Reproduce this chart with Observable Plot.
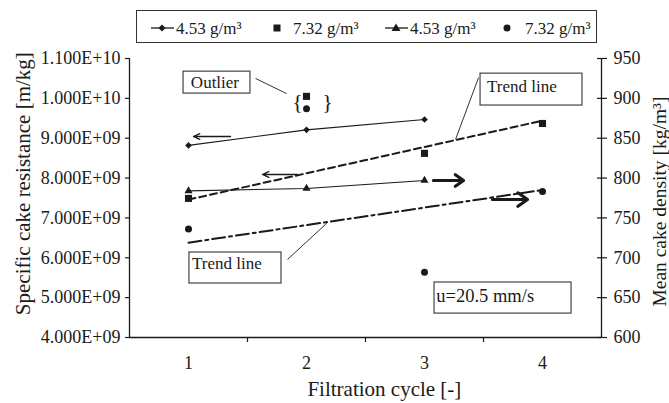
<!DOCTYPE html>
<html><head><meta charset="utf-8">
<script src="https://cdn.jsdelivr.net/npm/d3@7"></script>
<script src="https://cdn.jsdelivr.net/npm/@observablehq/plot@0.6"></script>
<style>
body{margin:0;background:#fff;font-family:"Liberation Serif","Times New Roman",serif;}
#wrap{position:relative;width:669px;height:403px;overflow:hidden;}
#legendBox{position:absolute;left:136px;top:10px;width:459px;height:31px;border:1.5px solid #333;background:#fff;}
#legendSvg{position:absolute;left:0;top:0;font-family:"Liberation Serif","Times New Roman",serif;}
#chart{position:absolute;left:0;top:0;}
</style></head><body>
<div id="wrap"><div id="chart"></div><div id="legendBox"></div><svg id="legendSvg" width="669" height="50"></svg></div>
<script>
// ---- data ----
const cycles = [1, 2, 3, 4];
const xTickLabels = ["1", "2", "3", "4"];
const resistance453 = [8.82e9, 9.21e9, 9.47e9];          // diamonds, cycles 1-3, left axis
const resistance732 = [7.49e9, 1.005e10, 8.62e9, 9.37e9]; // squares, cycles 1-4, left axis
const density453 = [784, 787, 797];                       // triangles, cycles 1-3, right axis
const density732 = [736, 887, 682, 783];                  // circles, cycles 1-4, right axis
const trendCycles = [1, 4];
const trendResistance = [7.46e9, 9.44e9];                 // dashed trend line
const trendDensity = [719, 785];                          // dash-dot trend line
const leftTicks = [4e9, 5e9, 6e9, 7e9, 8e9, 9e9, 1e10, 1.1e10];
const rightTicks = [600, 650, 700, 750, 800, 850, 900, 950];
const xBoundaryTicks = [1.5, 2.5, 3.5];
const seriesLabels = ["4.53 g/m³", "7.32 g/m³", "4.53 g/m³", "7.32 g/m³"];
const leftTitle = "Specific cake resistance [m/kg]";
const rightTitle = "Mean cake density [kg/m³]";
const xTitle = "Filtration cycle [-]";

// annotations (data coordinates: cycle, left-axis value)
const noteBoxes = [
  {label: "Outlier", x1: 0.958, x2: 1.525, y1: 10.12e9, y2: 10.67e9, tx: 1.02, ty: 10.40e9, size: 17},
  {label: "Trend line", x1: 3.475, x2: 4.339, y1: 9.82e9, y2: 10.62e9, tx: 3.53, ty: 10.30e9, size: 17},
  {label: "Trend line", x1: 1.008, x2: 1.788, y1: 5.355e9, y2: 6.133e9, tx: 1.03, ty: 5.86e9, size: 17},
  {label: "u=20.5 mm/s", x1: 3.085, x2: 4.246, y1: 4.60e9, y2: 5.38e9, tx: 3.10, ty: 5.03e9, size: 18.5}
];
const leaders = [
  {x1: 1.568, y1: 10.50e9, x2: 1.831, y2: 10.12e9},
  {x1: 3.458, y1: 10.52e9, x2: 3.263, y2: 8.97e9},
  {x1: 1.839, y1: 5.957e9, x2: 2.178, y2: 6.885e9}
];
const braces = [{t: "{", x: 1.924, y: 9.90e9}, {t: "}", x: 2.178, y: 9.90e9}];
const thinArrows = [
  {x1: 1.356, x2: 1.042, y: 9.043e9},
  {x1: 1.924, x2: 1.627, y: 8.089e9}
];
const thickArrows = [
  {x1: 3.076, x2: 3.331, y: 7.939e9},
  {x1: 3.576, x2: 3.873, y: 7.462e9}
];
// axis title anchors (data coordinates)
const titles = [
  {t: leftTitle, x: -0.40, y: 7.86e9, rotate: -90, size: 21},
  {t: rightTitle, x: 4.995, y: 7.41e9, rotate: -90, size: 19.5},
  {t: xTitle, x: 2.66, y: 2.70e9, rotate: 0, size: 21}
];

// right axis maps density onto left-axis units
const toLeft = d => 4e9 + (d - 600) * 2e7;
const fromLeft = v => 600 + (v - 4e9) / 2e7;
const sci = v => {
  const e = Math.floor(Math.log10(v) + 1e-9);
  return (v / Math.pow(10, e)).toFixed(3) + "E+" + String(e).padStart(2, "0");
};

const diam = resistance453.map((v, i) => ({x: cycles[i], y: v}));
const sq = resistance732.map((v, i) => ({x: cycles[i], y: v}));
const tri = density453.map((v, i) => ({x: cycles[i], y: toLeft(v)}));
const circ = density732.map((v, i) => ({x: cycles[i], y: toLeft(v)}));
const trendR = trendResistance.map((v, i) => ({x: trendCycles[i], y: v}));
const trendD = trendDensity.map((v, i) => ({x: trendCycles[i], y: toLeft(v)}));

const ink = "#1a1a1a";
const chart = Plot.plot({
  width: 669, height: 403,
  marginLeft: 129, marginRight: 68, marginTop: 58, marginBottom: 66,
  style: {fontFamily: "'Liberation Serif', serif", fontSize: "18px", color: ink, background: "transparent"},
  x: {domain: [0.5, 4.5]},
  y: {domain: [4e9, 1.1e10]},
  marks: [
    Plot.axisY({ticks: leftTicks, tickFormat: sci, tickSize: 4, tickPadding: 5, label: null, stroke: ink, strokeWidth: 1.2}),
    Plot.axisY({anchor: "right", ticks: rightTicks.map(toLeft), tickFormat: v => String(Math.round(fromLeft(v))), tickSize: 5, tickPadding: 7, label: null, strokeWidth: 1.2}),
    Plot.axisY({anchor: "right", ticks: rightTicks.map(toLeft), tickFormat: () => "", tickSize: 5, dx: -5, label: null, strokeWidth: 1.2}),
    Plot.axisX({ticks: cycles, tickSize: 0, tickPadding: 19, tickFormat: d => xTickLabels[cycles.indexOf(d)], label: null}),
    Plot.axisX({ticks: xBoundaryTicks, tickSize: 5, tickFormat: () => "", label: null, strokeWidth: 1.2}),
    Plot.ruleX([0.5, 4.5], {stroke: ink, strokeWidth: 1.3}),
    Plot.ruleY([4e9], {stroke: ink, strokeWidth: 1.3}),
    Plot.text(titles, {x: "x", y: "y", text: "t", rotate: "rotate", fontSize: d => d.size, fill: ink, clip: false}),
    // series
    Plot.line(trendR, {x: "x", y: "y", stroke: ink, strokeWidth: 2, strokeDasharray: "7,4"}),
    Plot.line(trendD, {x: "x", y: "y", stroke: ink, strokeWidth: 2, strokeDasharray: "13,4,3,4"}),
    Plot.line(diam, {x: "x", y: "y", stroke: ink, strokeWidth: 1.1}),
    Plot.line(tri, {x: "x", y: "y", stroke: ink, strokeWidth: 1.1}),
    Plot.dot(diam, {x: "x", y: "y", symbol: "diamond2", r: 3, fill: ink}),
    Plot.dot(tri, {x: "x", y: "y", symbol: "triangle", r: 3, fill: ink}),
    Plot.dot(sq, {x: "x", y: "y", symbol: "square", r: 4, fill: ink}),
    Plot.dot(circ, {x: "x", y: "y", symbol: "circle", r: 3.5, fill: ink}),
    // arrows
    Plot.arrow(thinArrows, {x1: "x1", x2: "x2", y1: "y", y2: "y", stroke: ink, strokeWidth: 1.3, headLength: 8, headAngle: 50}),
    Plot.arrow(thickArrows, {x1: "x1", x2: "x2", y1: "y", y2: "y", stroke: ink, strokeWidth: 3.2, headLength: 8, headAngle: 70}),
    // annotations
    Plot.link(leaders, {x1: "x1", y1: "y1", x2: "x2", y2: "y2", stroke: "#333", strokeWidth: 1}),
    Plot.rect(noteBoxes, {x1: "x1", x2: "x2", y1: "y1", y2: "y2", fill: "white", stroke: "#444", strokeWidth: 1.2}),
    Plot.text(noteBoxes, {x: "tx", y: "ty", text: "label", textAnchor: "start", fontSize: d => d.size, fill: ink}),
    Plot.text(braces, {x: "x", y: "y", text: "t", fontSize: 22, fill: ink})
  ]
});
document.getElementById("chart").appendChild(chart);

// legend
const ns = "http://www.w3.org/2000/svg";
const lg = document.getElementById("legendSvg");
const legendSymbols = ["diamond-line", "square", "triangle-line", "circle"];
const symX = [162, 277, 396, 507];
const textX = [176, 293, 410, 525];
const ly = 28;
function el(tag, attrs) { const e = document.createElementNS(ns, tag); for (const k in attrs) e.setAttribute(k, attrs[k]); lg.appendChild(e); return e; }
legendSymbols.forEach((s, i) => {
  const cx = symX[i];
  if (s.endsWith("line")) el("line", {x1: cx - 11, x2: cx + 12, y1: ly, y2: ly, stroke: ink, "stroke-width": 1.3});
  if (s.startsWith("diamond")) el("path", {d: `M${cx},${ly-3.5}L${cx+3.5},${ly}L${cx},${ly+3.5}L${cx-3.5},${ly}Z`, fill: ink});
  if (s === "square") el("rect", {x: cx - 3.5, y: ly - 3.5, width: 7, height: 7, fill: ink});
  if (s.startsWith("triangle")) el("path", {d: `M${cx},${ly-4.5}L${cx+4.5},${ly+3}L${cx-4.5},${ly+3}Z`, fill: ink});
  if (s === "circle") el("circle", {cx, cy: ly, r: 3.5, fill: ink});
  const t = el("text", {x: textX[i], y: 33.5, "font-size": 17, fill: ink});
  t.style.fontFamily = "'Liberation Serif', serif";
  t.textContent = seriesLabels[i];
});
</script>
</body></html>
